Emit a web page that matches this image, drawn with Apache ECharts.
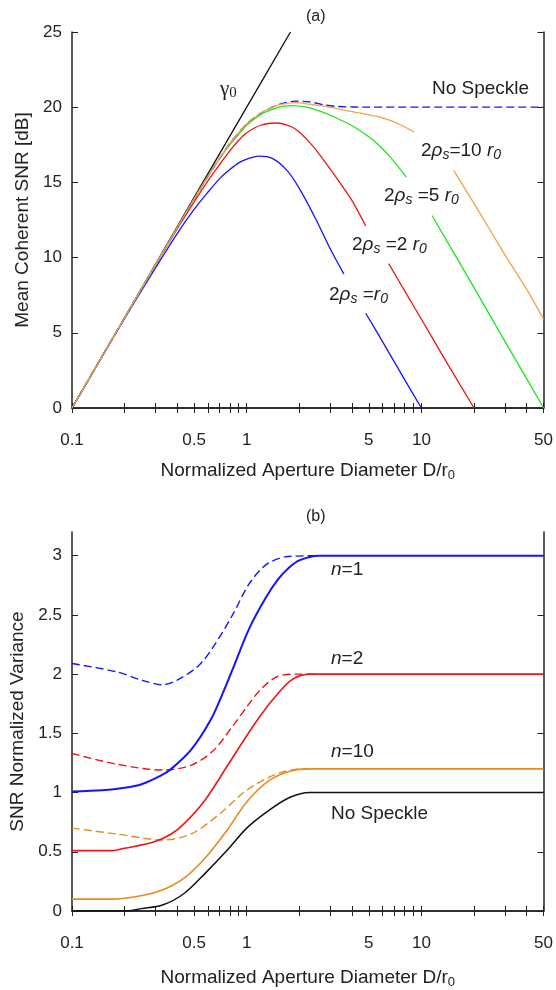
<!DOCTYPE html>
<html>
<head>
<meta charset="UTF-8">
<title>Mean coherent SNR and normalized variance</title>
<script src="https://cdn.jsdelivr.net/npm/echarts@6/dist/echarts.min.js"></script>
<style>
  html, body { margin: 0; padding: 0; background: #fff; }
  #chart { width: 556px; height: 990px; }
</style>
</head>
<body>
<div id="chart"></div>
<script>
// ---- panel (a): mean coherent SNR [dB] ----
const gammaX = [0.1, 0.2, 0.5, 1, 1.78];
const gammaY = [0, 6, 14, 20, 25];

const noSpkX = [0.1, 0.2, 0.3, 0.4, 0.5, 0.6, 0.7, 0.8, 0.9, 1.0, 1.2, 1.4, 1.6, 1.9, 2.3, 2.8, 3.3, 5, 10, 20, 50];
const noSpkY = [0, 6, 9.5, 12, 13.9, 15.4, 16.6, 17.6, 18.3, 18.9, 19.6, 20.0, 20.25, 20.4, 20.35, 20.15, 20.05, 20, 20, 20, 20];

const rho10X = [0.1, 0.2, 0.3, 0.4, 0.5, 0.6, 0.7, 0.8, 0.9, 1.0, 1.2, 1.4, 1.6, 1.9, 2.3, 2.8, 3.3, 3.8, 4.5, 5.5, 6.5, 7.5, 8.3, 9.1, 12, 15.3, 20, 30, 40, 50];
const rho10Y = [0, 6, 9.5, 12, 13.9, 15.4, 16.6, 17.6, 18.3, 18.9, 19.6, 20.0, 20.2, 20.3, 20.2, 20.05, 19.9, 19.75, 19.6, 19.4, 19.15, 18.85, 18.6, 18.35, null, 15.8, 13.6, 10.2, 7.9, 5.9];

const rho5X = [0.1, 0.2, 0.3, 0.4, 0.5, 0.6, 0.7, 0.8, 0.9, 1.0, 1.2, 1.4, 1.6, 1.8, 2.2, 2.6, 3.1, 3.6, 4.1, 4.7, 5.3, 5.9, 6.5, 7.3, 8.2, 10, 11.5, 15, 20, 30, 40, 50];
const rho5Y = [0, 6, 9.5, 12, 13.9, 15.4, 16.6, 17.5, 18.2, 18.8, 19.5, 19.85, 20.05, 20.1, 20.0, 19.75, 19.4, 19.05, 18.7, 18.25, 17.8, 17.3, 16.8, 16.1, 15.35, null, 12.8, 10.5, 8.0, 4.45, 1.95, 0];

const rho2X = [0.1, 0.2, 0.3, 0.4, 0.5, 0.6, 0.7, 0.8, 0.9, 1.0, 1.2, 1.5, 1.8, 2.0, 2.4, 3.0, 3.5, 4.0, 4.8, 5.5, 6.5, 8, 10, 14, 20];
const rho2Y = [0, 6, 9.5, 11.9, 13.7, 15.1, 16.2, 17.1, 17.8, 18.3, 18.8, 18.95, 18.7, 18.35, 17.4, 15.9, 14.8, 13.8, 12.1, null, 9.6, 7.8, 5.9, 3.0, 0];

const rho1X = [0.1, 0.2, 0.3, 0.4, 0.5, 0.6, 0.7, 0.8, 0.9, 1.0, 1.17, 1.4, 1.7, 2.0, 2.5, 3.0, 3.6, 4.2, 4.8, 6, 8, 10];
const rho1Y = [0, 5.95, 9.3, 11.6, 13.2, 14.35, 15.25, 15.85, 16.3, 16.55, 16.75, 16.6, 15.8, 14.6, 12.5, 10.6, 8.9, null, 6.3, 4.4, 1.9, 0];

// ---- panel (b): SNR normalized variance ----
const n1SolidX = [0.1, 0.15, 0.2, 0.25, 0.32, 0.37, 0.48, 0.62, 0.74, 0.83, 1.03, 1.28, 1.51, 1.75, 2.0, 2.56, 50];
const n1SolidY = [1.01, 1.02, 1.04, 1.07, 1.14, 1.2, 1.36, 1.61, 1.86, 2.04, 2.38, 2.64, 2.8, 2.9, 2.96, 3.0, 3.0];
const n1DashX = [0.1, 0.18, 0.25, 0.33, 0.4, 0.53, 0.65, 0.83, 1.03, 1.28, 1.66, 2.5];
const n1DashY = [2.09, 2.02, 1.95, 1.91, 1.95, 2.07, 2.24, 2.5, 2.76, 2.92, 2.99, 3.0];

const n2SolidX = [0.1, 0.17, 0.2, 0.29, 0.37, 0.44, 0.58, 0.77, 1.0, 1.2, 1.4, 1.8, 2.3, 50];
const n2SolidY = [0.51, 0.51, 0.53, 0.58, 0.65, 0.74, 0.94, 1.22, 1.48, 1.65, 1.78, 1.95, 2.0, 2.0];
const n2DashX = [0.1, 0.18, 0.33, 0.48, 0.64, 0.83, 1.02, 1.2, 1.5, 2.0, 2.5];
const n2DashY = [1.33, 1.24, 1.19, 1.23, 1.35, 1.56, 1.74, 1.87, 1.98, 2.0, 2.0];

const n10SolidX = [0.1, 0.17, 0.23, 0.32, 0.44, 0.58, 0.77, 1.0, 1.34, 1.77, 2.3, 50];
const n10SolidY = [0.1, 0.1, 0.12, 0.17, 0.28, 0.45, 0.68, 0.92, 1.1, 1.18, 1.2, 1.2];
const n10DashX = [0.1, 0.18, 0.33, 0.48, 0.7, 1.0, 1.5, 2.1, 2.5];
const n10DashY = [0.7, 0.65, 0.6, 0.65, 0.82, 1.02, 1.16, 1.2, 1.2];

const noSpkBX = [0.1, 0.2, 0.25, 0.33, 0.44, 0.58, 0.77, 1.0, 1.34, 1.77, 2.3, 3, 50];
const noSpkBY = [0, 0, 0.02, 0.05, 0.15, 0.32, 0.51, 0.7, 0.85, 0.96, 1.0, 1.0, 1.0];

// ---- axis ticks ----
const xLabelVals = [0.1, 0.5, 1, 5, 10, 50];
const xTickVals = [0.1, 0.2, 0.3, 0.4, 0.5, 0.6, 0.7, 0.8, 0.9, 1, 2, 3, 4, 5, 6, 7, 8, 9, 10, 20, 30, 40, 50];
const yTicksA = [0, 5, 10, 15, 20, 25];
const yTicksB = [0, 0.5, 1, 1.5, 2, 2.5, 3];

const FONT = '"Liberation Sans", Arial, sans-serif';
const BLUE = '#1414ff', RED = '#f01414', GREEN = '#1ee61e', ORANGE_A = '#f5a04b', ORANGE_B = '#e68c1e';

function pairs(xs, ys) { return xs.map((x, i) => [x, ys[i]]); }

const axisLine = { lineStyle: { color: '#222', width: 1.5 } };
const subRich = { sub: { fontSize: 13, fontFamily: FONT, color: '#222', padding: [9, 0, 0, 0] } };

function xAxes(grid, name, nameGap) {
  return [
    {
      type: 'log', gridIndex: grid, min: 0.1, max: 50, position: 'bottom',
      axisLine: axisLine,
      axisTick: { inside: true, length: 5, customValues: xTickVals, lineStyle: { color: '#222' } },
      axisLabel: { customValues: xLabelVals, color: '#222', fontSize: 17, fontFamily: FONT, margin: 24 },
      splitLine: { show: false },
      name: name, nameLocation: 'middle', nameGap: nameGap,
      nameTextStyle: { color: '#222', fontSize: 19, fontFamily: FONT, rich: subRich }
    },
    {
      type: 'log', gridIndex: grid, min: 0.1, max: 50, position: 'top',
      axisLine: axisLine,
      axisTick: { inside: true, length: 5, customValues: xTickVals, lineStyle: { color: '#222' } },
      axisLabel: { show: false },
      splitLine: { show: false }
    }
  ];
}

function yAxes(grid, max, ticks, name) {
  return [
    {
      type: 'value', gridIndex: grid, min: 0, max: max, position: 'left',
      axisLine: axisLine,
      axisTick: { inside: true, length: 6, customValues: ticks, lineStyle: { color: '#222' } },
      axisLabel: { customValues: ticks, color: '#222', fontSize: 17, fontFamily: FONT, margin: 10 },
      splitLine: { show: false },
      name: name, nameLocation: 'middle', nameGap: 36,
      nameTextStyle: { color: '#222', fontSize: 19, fontFamily: FONT }
    },
    {
      type: 'value', gridIndex: grid, min: 0, max: max, position: 'right',
      axisLine: axisLine,
      axisTick: { inside: true, length: 6, customValues: ticks, lineStyle: { color: '#222' } },
      axisLabel: { show: false },
      splitLine: { show: false }
    }
  ];
}

function line(xi, yi, xs, ys, color, width, dashed) {
  return {
    type: 'line', xAxisIndex: xi, yAxisIndex: yi,
    data: pairs(xs, ys), showSymbol: false, symbol: 'none',
    smooth: 0.3, connectNulls: false, silent: true,
    lineStyle: { color: color, width: width, type: dashed ? [8, 4] : 'solid' }
  };
}

const chart = echarts.init(document.getElementById('chart'));

const rhoRich = {
  i: { fontStyle: 'italic', fontSize: 19, fontFamily: FONT, color: '#222' },
  is: { fontStyle: 'italic', fontSize: 14, fontFamily: FONT, color: '#222', padding: [9, 0, 0, 0] },
  n: { fontSize: 19, fontFamily: FONT, color: '#222' }
};

function note(left, top, text) {
  return {
    type: 'text', left: left, top: top, silent: true,
    style: { text: text, rich: rhoRich, font: '19px ' + FONT, fill: '#222' }
  };
}

chart.setOption({
  animation: false,
  backgroundColor: '#fff',
  title: [
    { text: '(a)', left: 301, top: 4, textStyle: { fontSize: 16, fontWeight: 'normal', color: '#222', fontFamily: FONT } },
    { text: '(b)', left: 301, top: 504, textStyle: { fontSize: 16, fontWeight: 'normal', color: '#222', fontFamily: FONT } }
  ],
  grid: [
    { left: 72, top: 32, width: 475, height: 376 },
    { left: 72, top: 532, width: 475, height: 379 }
  ],
  xAxis: [].concat(
    xAxes(0, 'Normalized Aperture Diameter D/r{sub|0}', 52),
    xAxes(1, 'Normalized Aperture Diameter D/r{sub|0}', 56)
  ),
  yAxis: [].concat(
    yAxes(0, 25, yTicksA, 'Mean Coherent SNR [dB]'),
    yAxes(1, 3.2, yTicksB, 'SNR Normalized Variance')
  ),
  series: [
    line(0, 0, gammaX, gammaY, '#111', 1.3, false),
    line(0, 0, rho1X, rho1Y, BLUE, 1.3, false),
    line(0, 0, rho2X, rho2Y, RED, 1.3, false),
    line(0, 0, rho5X, rho5Y, GREEN, 1.3, false),
    line(0, 0, noSpkX, noSpkY, BLUE, 1.3, true),
    line(0, 0, rho10X, rho10Y, ORANGE_A, 1.3, false),

    line(2, 2, noSpkBX, noSpkBY, '#111', 1.5, false),
    line(2, 2, n10DashX, n10DashY, ORANGE_B, 1.4, true),
    line(2, 2, n10SolidX, n10SolidY, ORANGE_B, 1.6, false),
    line(2, 2, n2DashX, n2DashY, RED, 1.4, true),
    line(2, 2, n2SolidX, n2SolidY, RED, 1.6, false),
    line(2, 2, n1DashX, n1DashY, BLUE, 1.4, true),
    line(2, 2, n1SolidX, n1SolidY, BLUE, 2, false)
  ],
  graphic: [
    {
      type: 'text', left: 220, top: 79, silent: true,
      style: {
        text: 'γ{s|0}', font: '21px "Liberation Serif", serif', fill: '#222',
        rich: { s: { fontSize: 15, fontFamily: '"Liberation Serif", serif', color: '#222', padding: [8, 0, 0, 0] } }
      }
    },
    note(432, 79, 'No Speckle'),
    note(421, 141, '{n|2}{i|ρ}{is|s}{n|=10 }{i|r}{is|0}'),
    note(384, 186, '{n|2}{i|ρ}{is|s}{n| =5 }{i|r}{is|0}'),
    note(352, 235, '{n|2}{i|ρ}{is|s}{n| =2 }{i|r}{is|0}'),
    note(329, 285, '{n|2}{i|ρ}{is|s}{n| =}{i|r}{is|0}'),
    note(331, 560, '{i|n}{n|=1}'),
    note(331, 649, '{i|n}{n|=2}'),
    note(331, 742, '{i|n}{n|=10}'),
    note(331, 804, 'No Speckle')
  ]
});
</script>
</body>
</html>
